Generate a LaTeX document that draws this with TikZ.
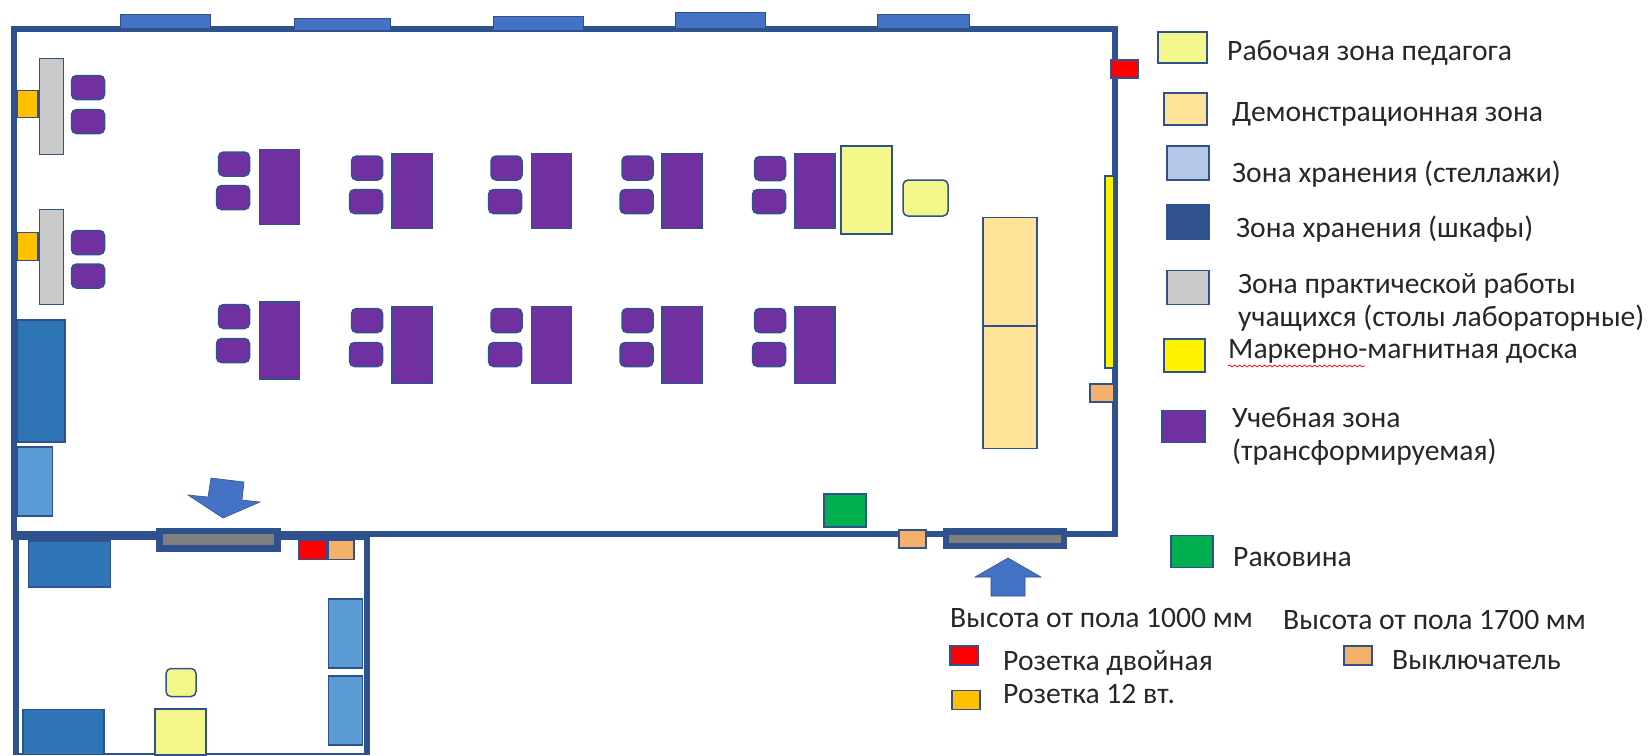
\documentclass[tikz,border=0pt]{standalone}
\usepackage{xcolor}
\usepackage{fontspec}
\setmainfont{Carlito}
\usepackage{tikz}
\usetikzlibrary{decorations.pathmorphing}
\definecolor{wallblue}{HTML}{2F528F}
\definecolor{windowblue}{HTML}{4472C4}
\definecolor{cabinetblue}{HTML}{2E75B6}
\definecolor{shelfblue}{HTML}{5B9BD5}
\definecolor{shelfpale}{HTML}{B4C7E7}
\definecolor{deskpurple}{HTML}{7030A0}
\definecolor{teacheryellow}{HTML}{F3F78A}
\definecolor{demosand}{HTML}{FFE399}
\definecolor{labgray}{HTML}{C9C9C9}
\definecolor{doorgray}{HTML}{7F7F7F}
\definecolor{sinkgreen}{HTML}{00B050}
\definecolor{socketamber}{HTML}{FFC000}
\definecolor{switchorange}{HTML}{F4B169}
\definecolor{inkdark}{HTML}{262626}
\tikzset{
    box/.style n args={3}{rectangle, draw=wallblue, fill=#1, line width=1.5pt, inner sep=0pt, outer sep=0pt, minimum width=#2, minimum height=#3},
    desk/.style={box={deskpurple}{40}{#1}},
    chair/.style={box={deskpurple}{#1}{24}, rounded corners=5pt},
    softbox/.style n args={3}{box={#1}{#2}{#3}, rounded corners=5pt},
    wall/.style={draw=wallblue, line width=6pt},
    entry/.style={draw=wallblue, fill=windowblue, line width=0.6pt},
    legtext/.style={anchor=base west, inner sep=0pt, text=inkdark, font=\fontsize{29.6}{33}\selectfont}
}

\begin{document}
\begin{tikzpicture}[x=1pt, y=-1pt]
    \useasboundingbox (0,0) rectangle (1648,755);

    % Walls
    \draw[wall] (14,29) rectangle (1115,533.5);
    \draw[wall] (11,537) -- (367,537);
    \draw[wall] (16,755) -- (16,537);
    \draw[wall] (367,755) -- (367,537);
    \draw[draw=wallblue, line width=2pt] (16,754) -- (367,754);

    % Windows
    \node[box={windowblue}{90}{14}] (window1) at (165.5,21.5) {};
    \node[box={windowblue}{96}{12}] (window2) at (342.5,24.5) {};
    \node[box={windowblue}{90}{14}] (window3) at (538.5,23.5) {};
    \node[box={windowblue}{90}{16}] (window4) at (720.5,20.5) {};
    \node[box={windowblue}{92}{14}] (window5) at (923.5,21.5) {};

    % Doors and entry arrows
    \node[box={wallblue}{124}{23}] (doorHall) at (218.5,540) {};
    \node[rectangle, fill=doorgray, inner sep=0pt, minimum width=111, minimum height=11] (doorHallPane) at (218.5,539.5) {};
    \node[box={wallblue}{123}{20}] (doorMain) at (1005,538.5) {};
    \node[rectangle, fill=doorgray, inner sep=0pt, minimum width=112, minimum height=8] (doorMainPane) at (1005,539) {};
    \draw[entry] (211,478) -- (244,482) -- (242,500) -- (260,502) -- (223,518) -- (188,495) -- (208,497) -- cycle;
    \draw[entry] (1008,558) -- (1041,577) -- (1025,577) -- (1025,596) -- (991,596) -- (991,577) -- (975,577) -- cycle;

    % Laboratory tables
    \node[box={labgray}{24}{96}] (labTableA) at (51.5,106.5) {};
    \node[box={labgray}{24}{95}] (labTableB) at (51.5,257) {};
    \node[box={socketamber}{21}{27}] (socketA) at (27.5,104) {};
    \node[box={socketamber}{21}{28}] (socketB) at (27.5,246.5) {};
    \node[chair=33] (labChairA) at (88,87.5) {};
    \node[chair=33] (labChairB) at (88,121.5) {};
    \node[chair=33] (labChairC) at (88,242.5) {};
    \node[chair=33] (labChairD) at (88,276) {};

    % Student desks, upper row
    \node[desk=75] (deskA) at (279.5,187) {};
    \node[chair=31] (chairA1) at (234,164) {};
    \node[chair=33] (chairA2) at (233,197.5) {};
    \node[desk=75] (deskB) at (412,191) {};
    \node[chair=31] (chairB1) at (367,168) {};
    \node[chair=33] (chairB2) at (366,201.5) {};
    \node[desk=75] (deskC) at (551.5,191) {};
    \node[chair=31] (chairC1) at (506.5,168) {};
    \node[chair=33] (chairC2) at (505,201.5) {};
    \node[desk=75] (deskD) at (682,191) {};
    \node[chair=31] (chairD1) at (637.5,168) {};
    \node[chair=33] (chairD2) at (636.5,201.5) {};
    \node[desk=75] (deskE) at (815,191) {};
    \node[chair=31] (chairE1) at (770,168.5) {};
    \node[chair=33] (chairE2) at (769,201.5) {};

    % Student desks, lower row
    \node[desk=77] (deskF) at (279.5,340.5) {};
    \node[chair=31] (chairF1) at (234,316.5) {};
    \node[chair=33] (chairF2) at (233,350.5) {};
    \node[desk=77] (deskG) at (412,345) {};
    \node[chair=31] (chairG1) at (367,320.5) {};
    \node[chair=33] (chairG2) at (366,354.5) {};
    \node[desk=77] (deskH) at (551.5,345) {};
    \node[chair=31] (chairH1) at (506.5,320.5) {};
    \node[chair=33] (chairH2) at (505,354.5) {};
    \node[desk=77] (deskI) at (682,345) {};
    \node[chair=31] (chairI1) at (637.5,320.5) {};
    \node[chair=33] (chairI2) at (636.5,354.5) {};
    \node[desk=77] (deskJ) at (815,345) {};
    \node[chair=31] (chairJ1) at (770,320.5) {};
    \node[chair=33] (chairJ2) at (769,354.5) {};

    % Teacher and demonstration area
    \node[box={teacheryellow}{51}{88}] (teacherDesk) at (866.5,190) {};
    \node[softbox={teacheryellow}{45}{36}] (teacherChair) at (925.5,198) {};
    \node[box={demosand}{54}{108}] (demoTableA) at (1010,271.5) {};
    \node[box={demosand}{54}{122.5}] (demoTableB) at (1010,387.25) {};
    \node[box={yellow}{9}{192}] (board) at (1109.5,272) {};
    \node[box={red}{27}{18}] (socketRight) at (1124.5,69) {};
    \node[box={switchorange}{24}{18}] (switchRight) at (1102,393) {};
    \node[box={switchorange}{27}{18}] (switchBottom) at (912.5,539) {};
    \node[box={sinkgreen}{42}{33}] (sink) at (845,510.5) {};

    % Cabinets and shelves
    \node[box={cabinetblue}{48}{122}] (cabinetA) at (41,381) {};
    \node[box={shelfblue}{35}{69}] (shelfA) at (35,481.5) {};
    \node[box={cabinetblue}{82}{46}] (cabinetB) at (69.5,564) {};
    \node[box={cabinetblue}{81}{45}] (cabinetC) at (63.5,732) {};
    \node[box={shelfblue}{34}{69}] (shelfB) at (345.5,633.5) {};
    \node[box={shelfblue}{34}{69}] (shelfC) at (345.5,710.5) {};

    % Small room
    \node[box={red}{28}{19}] (socketRoom) at (312.5,550) {};
    \node[box={switchorange}{26}{19}] (switchRoom) at (341,550) {};
    \node[softbox={teacheryellow}{30}{28}] (roomChair) at (181,682.5) {};
    \node[box={teacheryellow}{51}{46}] (roomDesk) at (180.5,732) {};

    % Legend
    \node[box={teacheryellow}{49}{31}] (keyTeacher) at (1182.5,47.5) {};
    \node[legtext] (txtTeacher) at (1227,60) {Рабочая зона педагога};
    \node[box={demosand}{43}{32}] (keyDemo) at (1185.5,109) {};
    \node[legtext] (txtDemo) at (1232,121) {Демонстрационная зона};
    \node[box={shelfpale}{42}{34}] (keyShelf) at (1188,163) {};
    \node[legtext] (txtShelf) at (1232,182) {Зона хранения (стеллажи)};
    \node[box={wallblue}{42}{34}] (keyCabinet) at (1188,222) {};
    \node[legtext] (txtCabinet) at (1236,237) {Зона хранения (шкафы)};
    \node[box={labgray}{42}{34}] (keyLab) at (1188,287.5) {};
    \node[legtext, align=left] (txtLab) at (1238,326) {Зона практической работы\\учащихся (столы лабораторные)};
    \node[box={yellow}{41}{33}] (keyBoard) at (1184.5,355.5) {};
    \node[legtext] (txtBoard) at (1228,358) {Маркерно-магнитная доска};
    \draw[red, line width=0.7pt, decorate, decoration={snake, amplitude=1pt, segment length=5pt}] (1228,366) -- (1365,366);
    \node[box={deskpurple}{43}{32}] (keyStudy) at (1183.5,426.5) {};
    \node[legtext, align=left] (txtStudy) at (1232,460) {Учебная зона\\(трансформируемая)};
    \node[box={sinkgreen}{42}{32}] (keySink) at (1192,551.5) {};
    \node[legtext] (txtSink) at (1233,566) {Раковина};

    % Mounting heights
    \node[legtext] (txtLow) at (950,627) {Высота от пола 1000 мм};
    \node[legtext] (txtHigh) at (1283,629) {Высота от пола 1700 мм};
    \node[box={red}{28}{19}] (keyDouble) at (964,655.5) {};
    \node[legtext] (txtDouble) at (1003,670) {Розетка двойная};
    \node[box={socketamber}{28}{19}] (keyTwelve) at (966,700) {};
    \node[legtext] (txtTwelve) at (1003,703) {Розетка 12 вт.};
    \node[box={switchorange}{28}{19}] (keySwitch) at (1358,655.5) {};
    \node[legtext] (txtSwitch) at (1392,669) {Выключатель};
\end{tikzpicture}
\end{document}
